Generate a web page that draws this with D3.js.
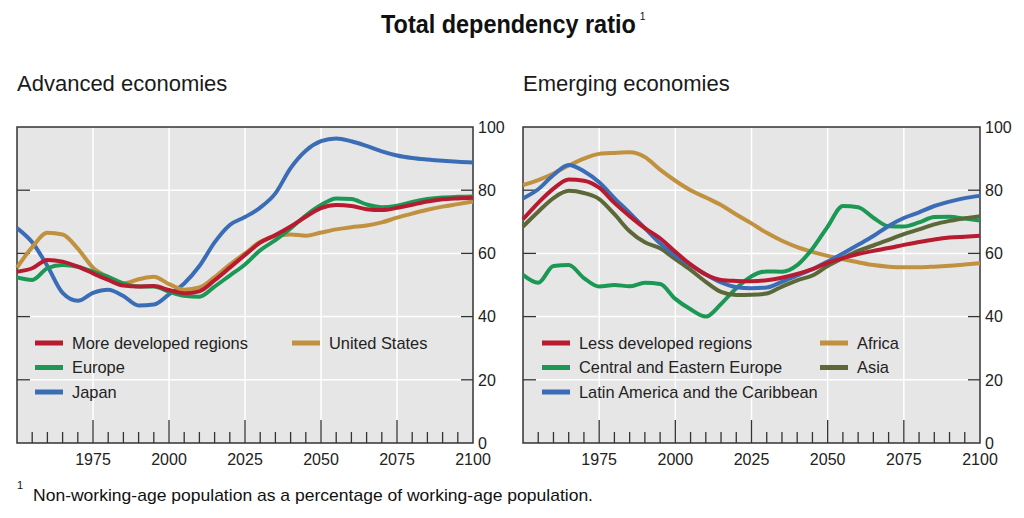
<!DOCTYPE html>
<html><head><meta charset="utf-8">
<script src="https://cdn.jsdelivr.net/npm/d3@7"></script>
<style>
html,body{margin:0;padding:0;background:#fff;}
svg{display:block;font-family:"Liberation Sans",Arial,sans-serif;}
</style></head>
<body>
<svg id="chart" width="1024" height="518"></svg>
<script>
const years = d3.range(1950, 2101, 5);
const xTickYears = [1975, 2000, 2025, 2050, 2075, 2100];
const yTicks = [0, 20, 40, 60, 80, 100];

// Advanced economies
const moreDeveloped = [54.2,55.3,57.9,57.4,55.8,53.7,51.6,49.8,49.5,49.7,48.4,47.4,48,51.5,55.5,59.5,63.4,65.8,68.5,71.6,74.3,75.3,75,74,73.7,74.4,75.4,76.4,77.1,77.4,77.6];
const europe = [52.4,51.6,55.3,56.3,55.8,54.2,52.6,50.5,49.5,49.5,47.9,46.6,46.3,49.5,53,56.5,61,64.2,67.9,72,75.3,77.4,77.2,75.5,74.6,75.1,76.3,77.2,77.7,77.9,78];
const japan = [68,63.5,56,47.5,45,47.5,48.5,46.5,43.5,43.8,47,50.5,56,63.5,69,71.5,74.5,79,87,92.5,95.5,96.4,95.5,94,92.3,91,90.2,89.7,89.3,89,88.8];
const unitedStates = [55.5,62,66.5,66,61.5,55.5,52.5,50.5,51.8,52.6,50.3,48.5,49.2,52.5,56.5,60,63.7,65.5,66,65.6,66.6,67.6,68.3,68.8,69.8,71.3,72.6,73.8,74.8,75.6,76.4];

// Emerging economies
const lessDeveloped = [70.8,76,80.5,83.4,83,80.8,76,71.8,68,64.8,60.5,56.5,53.3,51.6,51.3,51.2,51.5,52.3,53.5,55,57,58.5,59.8,60.8,61.7,62.7,63.6,64.4,65,65.3,65.6];
const centralEasternEurope = [53.2,50.7,56,56.3,52.2,49.5,50,49.6,50.7,50.3,45.6,42.3,40,44,49,52.8,54.3,54.2,56.3,61.5,68.5,75,74.6,71.3,68.6,68.5,69.8,71.5,71.6,71,70.4];
const latinAmerica = [77.4,80.3,84.8,88,86,82.5,77.5,72.8,68,63.2,59.3,56.3,53.3,50.8,49.3,49,49.2,51,53,55,57.4,60,62.7,65.5,68.7,71.2,73,75,76.4,77.5,78.2];
const africa = [81.6,83.2,85.3,87.8,90,91.5,91.8,92,90.5,86.5,83,80,77.7,75.3,72.3,69.5,66.5,64,62,60.5,59.2,58.1,57.2,56.3,55.8,55.6,55.6,55.8,56.1,56.5,56.9];
const asia = [68.5,73.2,77.5,79.8,79.1,77.2,72.4,67,63.5,61.6,58.2,54.8,51,47.8,46.8,46.9,47.3,49.5,51.5,53,56,58.5,60.8,62.5,64.3,66.1,67.6,69.2,70.3,71.1,71.8];

const C = {red:"#b81a30", green:"#1a9854", blue:"#3a6db6", gold:"#c0913f", olive:"#5d6839"};

const panels = [
  {title:"Advanced economies", left:17, right:473,
   series:[
     {name:"Japan", values:japan, color:C.blue},
     {name:"United States", values:unitedStates, color:C.gold},
     {name:"Europe", values:europe, color:C.green},
     {name:"More developed regions", values:moreDeveloped, color:C.red}
   ],
   legend:[
     {name:"More developed regions", color:C.red, col:0, row:0},
     {name:"Europe", color:C.green, col:0, row:1},
     {name:"Japan", color:C.blue, col:0, row:2},
     {name:"United States", color:C.gold, col:1, row:0}
   ], legendCols:[18, 275]},
  {title:"Emerging economies", left:523, right:980,
   series:[
     {name:"Africa", values:africa, color:C.gold},
     {name:"Central and Eastern Europe", values:centralEasternEurope, color:C.green},
     {name:"Asia", values:asia, color:C.olive},
     {name:"Latin America and the Caribbean", values:latinAmerica, color:C.blue},
     {name:"Less developed regions", values:lessDeveloped, color:C.red}
   ],
   legend:[
     {name:"Less developed regions", color:C.red, col:0, row:0},
     {name:"Central and Eastern Europe", color:C.green, col:0, row:1},
     {name:"Latin America and the Caribbean", color:C.blue, col:0, row:2},
     {name:"Africa", color:C.gold, col:1, row:0},
     {name:"Asia", color:C.olive, col:1, row:1}
   ], legendCols:[19, 297]}
];

const svg = d3.select("#chart");
const plotTop = 127, plotBottom = 443;

// Title (condensed by horizontal scaling) with superscript in the same text element
const title = svg.append("text").attr("font-size", 25).attr("fill", "#111");
const mainSpan = title.append("tspan").attr("font-weight", "bold").text("Total dependency ratio");
const natural = mainSpan.node().getComputedTextLength();
const sx = 255 / natural;
title.attr("transform", `translate(381,33) scale(${sx},1)`);
title.append("tspan").attr("font-size", 11).attr("dx", 4 / sx).attr("dy", -13).text("1");

panels.forEach(p => {
  const x = d3.scaleLinear().domain([1950, 2100]).range([p.left, p.right]);
  const y = d3.scaleLinear().domain([0, 100]).range([plotBottom, plotTop]);
  const g = svg.append("g");

  g.append("text").attr("x", p.left).attr("y", 91).attr("font-size", 22)
    .attr("fill", "#1a1a1a").text(p.title);

  g.append("rect").attr("x", p.left).attr("y", plotTop)
    .attr("width", p.right - p.left).attr("height", plotBottom - plotTop).attr("fill", "#e6e6e6");

  g.selectAll(".gx").data(xTickYears.filter(d => d < 2100)).join("line")
    .attr("x1", d => x(d)).attr("x2", d => x(d)).attr("y1", plotTop).attr("y2", plotBottom)
    .attr("stroke", "#fff").attr("stroke-width", 1.5);
  g.selectAll(".gy").data(yTicks.filter(d => d > 0 && d < 100)).join("line")
    .attr("x1", p.left).attr("x2", p.right).attr("y1", d => y(d)).attr("y2", d => y(d))
    .attr("stroke", "#fff").attr("stroke-width", 1.5);

  const tickYears = d3.range(1955, 2100, 5);
  g.selectAll(".tx").data(tickYears).join("line")
    .attr("x1", d => x(d)).attr("x2", d => x(d))
    .attr("y1", plotBottom).attr("y2", d => plotBottom - (d % 25 === 0 ? 23 : 11))
    .attr("stroke", "#333").attr("stroke-width", 1.3);

  const inner = yTicks.filter(d => d > 0 && d < 100);
  g.selectAll(".tyl").data(inner).join("line")
    .attr("x1", p.left).attr("x2", p.left + 13).attr("y1", d => y(d)).attr("y2", d => y(d))
    .attr("stroke", "#333").attr("stroke-width", 1.3);
  g.selectAll(".tyr").data(inner).join("line")
    .attr("x1", p.right).attr("x2", p.right - 12).attr("y1", d => y(d)).attr("y2", d => y(d))
    .attr("stroke", "#333").attr("stroke-width", 1.3);

  g.append("rect").attr("x", p.left).attr("y", plotTop)
    .attr("width", p.right - p.left).attr("height", plotBottom - plotTop)
    .attr("fill", "none").attr("stroke", "#333").attr("stroke-width", 1.5);

  g.selectAll(".ly").data(yTicks).join("text")
    .attr("x", p.right + 5).attr("y", d => y(d)).attr("dy", "0.36em")
    .attr("font-size", 16).attr("fill", "#222").text(d => d);
  g.selectAll(".lx").data(xTickYears).join("text")
    .attr("x", d => x(d)).attr("y", 465).attr("text-anchor", "middle")
    .attr("font-size", 16).attr("fill", "#222").text(d => d);

  const line = d3.line().x((d, i) => x(years[i])).y(d => y(d)).curve(d3.curveMonotoneX);
  p.series.forEach(s => {
    g.append("path").datum(s.values).attr("d", line)
      .attr("fill", "none").attr("stroke", s.color).attr("stroke-width", 4)
      .attr("stroke-linejoin", "round");
  });

  p.legend.forEach(l => {
    const lx = p.left + p.legendCols[l.col];
    const ly = 343 + l.row * 24.5;
    g.append("line").attr("x1", lx).attr("x2", lx + 28).attr("y1", ly).attr("y2", ly)
      .attr("stroke", l.color).attr("stroke-width", 5);
    g.append("text").attr("x", lx + 37).attr("y", ly).attr("dy", "0.36em")
      .attr("font-size", 16.4).attr("fill", "#222").text(l.name);
  });
});

// Footnote with superscript in one text element
const foot = svg.append("text").attr("x", 17).attr("y", 501).attr("fill", "#111");
foot.append("tspan").attr("font-size", 11).attr("dy", -12).text("1");
foot.append("tspan").attr("x", 33).attr("dy", 12).attr("font-size", 17)
  .attr("textLength", 560).attr("lengthAdjust", "spacingAndGlyphs")
  .text("Non-working-age population as a percentage of working-age population.");
</script>
</body></html>
